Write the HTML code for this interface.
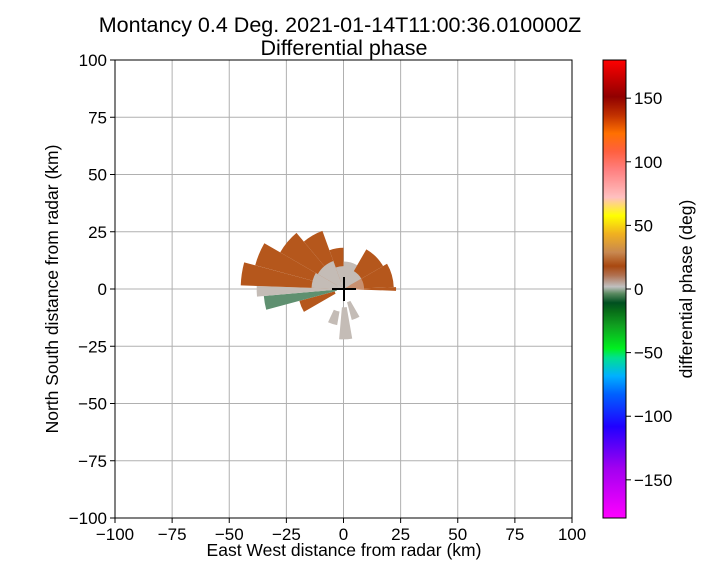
<!DOCTYPE html>
<html><head><meta charset="utf-8"><style>
body{margin:0;background:#fff;font-family:"Liberation Sans",sans-serif}
svg text{font-family:"Liberation Sans",sans-serif;fill:#000}
</style></head><body>
<svg id="chart" width="720" height="576" viewBox="0 0 720 576" xmlns="http://www.w3.org/2000/svg">
<defs>
<linearGradient id="cmap" x1="0" y1="1" x2="0" y2="0">
<stop offset="0" stop-color="#ff00ff"/>
<stop offset="0.11" stop-color="#a000f0"/>
<stop offset="0.2" stop-color="#2000ff"/>
<stop offset="0.27" stop-color="#0060ff"/>
<stop offset="0.31" stop-color="#00b0ff"/>
<stop offset="0.35" stop-color="#00e090"/>
<stop offset="0.37" stop-color="#00f020"/>
<stop offset="0.42" stop-color="#10a020"/>
<stop offset="0.45" stop-color="#087018"/>
<stop offset="0.47" stop-color="#005020"/>
<stop offset="0.49" stop-color="#5a8a60"/>
<stop offset="0.505" stop-color="#c0c0c0"/>
<stop offset="0.53" stop-color="#b07050"/>
<stop offset="0.55" stop-color="#a84810"/>
<stop offset="0.58" stop-color="#c88850"/>
<stop offset="0.62" stop-color="#f0b020"/>
<stop offset="0.66" stop-color="#ffff00"/>
<stop offset="0.7" stop-color="#ffc0c0"/>
<stop offset="0.76" stop-color="#ff8080"/>
<stop offset="0.8" stop-color="#ff6040"/>
<stop offset="0.84" stop-color="#ff7000"/>
<stop offset="0.88" stop-color="#c03000"/>
<stop offset="0.92" stop-color="#900000"/>
<stop offset="1" stop-color="#ff0000"/>
</linearGradient>
</defs>
<text x="340" y="32" font-size="21.5" text-anchor="middle">Montancy 0.4 Deg. 2021-01-14T11:00:36.010000Z</text>
<text x="344" y="55" font-size="21.5" text-anchor="middle">Differential phase</text>
<g id="grid"></g>
<g id="marks"></g>
<g id="axes"></g>
<rect x="115" y="60" width="457" height="458" fill="none" stroke="#000" stroke-width="1"/>
<line x1="332" y1="289" x2="356" y2="289" stroke="#000" stroke-width="2"/>
<line x1="344" y1="277" x2="344" y2="301" stroke="#000" stroke-width="2"/>
<text x="344" y="556" font-size="17.5" text-anchor="middle">East West distance from radar (km)</text>
<text transform="translate(58,289) rotate(-90)" font-size="17.5" text-anchor="middle">North South distance from radar (km)</text>
<rect x="603" y="60" width="23" height="458" fill="url(#cmap)" stroke="#000" stroke-width="1"/>
<g id="cbticks"></g>
<text transform="translate(692,289) rotate(-90)" font-size="17.5" text-anchor="middle">differential phase (deg)</text>
</svg>
<script>
const xTicks=[-100,-75,-50,-25,0,25,50,75,100];
const yTicks=[-100,-75,-50,-25,0,25,50,75,100];
const cbTicks=[-150,-100,-50,0,50,100,150];
// sectors: azimuth start/end (deg cw from north), range start/end (km), phase value (deg)
const azStart=[240,255,265,272,285,300,320,340,0,30,60,88,265,272,300,340,0,60,150,170,190];
const azEnd  =[255,265,272,285,300,320,340,360,30,60,88,92,272,300,340,360,60,92,165,185,205];
const rStart =[4,3,3,3,3,3,3,3,3,3,3,3,0,0,0,0,0,0,6,8,10];
const rEnd   =[20,35,38,45,40,32,27,18,12,20,22,23,12,14,13,10,9,9,14,22,16];
const phase  =[15,-12,3,15,15,15,15,12,3,12,12,15,2,3,3,2,2,5,2,2,2];
const NS="http://www.w3.org/2000/svg";
const X=v=>115+(v+100)/200*457, Y=v=>60+(100-v)/200*458;
const C=v=>60+(180-v)/360*458;
const grid=document.getElementById('grid'),axes=document.getElementById('axes');
function mk(tag,attrs,parent){const e=document.createElementNS(NS,tag);for(const k in attrs)e.setAttribute(k,attrs[k]);parent.appendChild(e);return e;}
xTicks.forEach(t=>{
 const g=mk('line',{x1:X(t),x2:X(t),y1:60,y2:518,stroke:'#b0b0b0','stroke-width':1},grid);
 
 
 mk('line',{x1:X(t),x2:X(t),y1:518,y2:523,stroke:'#000'},axes);
 const l=mk('text',{x:X(t),y:540,'font-size':17,'text-anchor':'middle'},axes);l.textContent=t<0?'\u2212'+(-t):t;
 
 
});
yTicks.forEach(t=>{
 const g=mk('line',{x1:115,x2:572,y1:Y(t),y2:Y(t),stroke:'#b0b0b0','stroke-width':1},grid);
 
 
 mk('line',{x1:110,x2:115,y1:Y(t),y2:Y(t),stroke:'#000'},axes);
 const l=mk('text',{x:107,y:Y(t)+6,'font-size':17,'text-anchor':'end'},axes);l.textContent=t<0?'\u2212'+(-t):t;
 
 
});
const cbt=document.getElementById('cbticks');
cbTicks.forEach(t=>{
 mk('line',{x1:626,x2:631,y1:C(t),y2:C(t),stroke:'#000'},cbt);
 const l=mk('text',{x:634,y:C(t)+6,'font-size':17},cbt);l.textContent=t<0?'\u2212'+(-t):t;
 
 
});
function color(v){
 if(v<=-8)return '#5f9070';
 if(v<=4)return '#c4bcb6';
 if(v<=8)return '#c89070';
 return '#b5571c';
}
const marks=document.getElementById('marks');
const P=(r,a)=>{const t=a*Math.PI/180;return [X(r*Math.sin(t)),Y(r*Math.cos(t))];};
azStart.forEach((a0,i)=>{
 const a1=azEnd[i],r0=rStart[i],r1=rEnd[i];
 const p1=P(r0,a0),p2=P(r1,a0),p3=P(r1,a1),p4=P(r0,a1);
 const R1=r1*457/200,R0=r0*457/200;
 const d=`M${p1}L${p2}A${R1},${R1} 0 0 1 ${p3}L${p4}A${R0},${R0} 0 0 0 ${p1}Z`;
 const e=mk('path',{d:d,fill:color(phase[i])},marks);
 
 
});
</script>
</body></html>
